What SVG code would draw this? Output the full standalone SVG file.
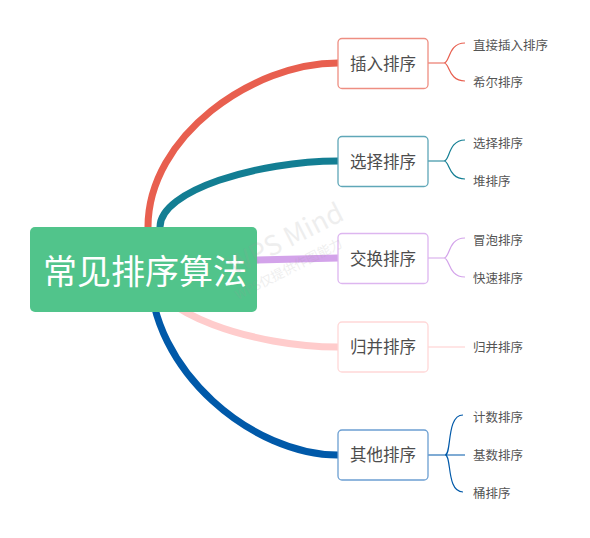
<svg xmlns="http://www.w3.org/2000/svg" width="590" height="538" viewBox="0 0 590 538">
<style>
  text { font-family: "Noto Sans CJK SC", "Noto Sans", sans-serif; }
  .main { fill: none; stroke-width: 7; stroke-linecap: butt; }
  .leafc { fill: none; stroke-width: 1.2; }
  .box { fill: #ffffff; stroke-width: 1.3; }
  .btext { font-size: 16.5px; fill: #4d4d4d; text-anchor: middle; }
  .ltext { font-size: 12.5px; fill: #555555; }
  .wm { fill: #9a9a9a; opacity: 0.16; }
</style>
<rect width="590" height="538" fill="#ffffff"/>
<g id="connectors">
  <path class="main" stroke="#E85F4F" d="M148,240 L148,227 C148,136 253,63 338,63"/>
  <path class="main" stroke="#137E93" d="M160,240 L160,227 C160,190.5 258,161 338,161"/>
  <path class="main" stroke="#D3A3EA" d="M200,261 L257,260 L338,258"/>
  <path class="main" stroke="#FFCCCC" d="M150,270 C150,312.5 254,347 338,347"/>
  <path class="main" stroke="#0059A9" d="M150,270 C150,372 254,455 338,455"/>

  <path class="leafc" stroke="#E85F4F" d="M428,63 H444 M444,63 C450,63 448,43 465,43 M444,63 C450,63 448,81 465,81"/>
  <path class="leafc" stroke="#137E93" d="M428,161 H444 M444,161 C450,161 448,140 465,140 M444,161 C450,161 448,179 465,179"/>
  <path class="leafc" stroke="#D3A3EA" d="M428,258 H444 M444,258 C450,258 448,238 465,238 M444,258 C450,258 448,277 465,277"/>
  <path class="leafc" stroke="#FFCCCC" d="M428,347 H465"/>
  <path class="leafc" stroke="#0059A9" d="M428,455 H465 M445,455 C452,455 446,415 463,415 M445,455 C452,455 446,492 463,492"/>
</g>
<g id="root">
  <rect x="30" y="227" width="227" height="85" rx="5" fill="#51C48B"/>
  <text x="145" y="284" font-size="34" fill="#ffffff" text-anchor="middle">常见排序算法</text>
</g>
<g id="n-insert">
  <rect class="box" x="338" y="38.5" width="90" height="50" rx="4" stroke="#EE8E82"/>
  <text class="btext" x="383" y="69.5">插入排序</text>
</g>
<g id="n-select">
  <rect class="box" x="338" y="136.5" width="90" height="50" rx="4" stroke="#5FA7B8"/>
  <text class="btext" x="383" y="167.5">选择排序</text>
</g>
<g id="n-swap">
  <rect class="box" x="338" y="233.5" width="90" height="50" rx="4" stroke="#DDB6F0"/>
  <text class="btext" x="383" y="264.5">交换排序</text>
</g>
<g id="n-merge">
  <rect class="box" x="338" y="322" width="90" height="50" rx="4" stroke="#FFD8D8"/>
  <text class="btext" x="383" y="353">归并排序</text>
</g>
<g id="n-other">
  <rect class="box" x="338" y="430" width="90" height="50" rx="4" stroke="#6C9FD2"/>
  <text class="btext" x="383" y="461">其他排序</text>
</g>
<g id="leaves">
  <text class="ltext" x="473" y="49.5">直接插入排序</text>
  <text class="ltext" x="473" y="87">希尔排序</text>
  <text class="ltext" x="473" y="147.5">选择排序</text>
  <text class="ltext" x="473" y="186">堆排序</text>
  <text class="ltext" x="473" y="244.5">冒泡排序</text>
  <text class="ltext" x="473" y="283">快速排序</text>
  <text class="ltext" x="473" y="352">归并排序</text>
  <text class="ltext" x="473" y="421.5">计数排序</text>
  <text class="ltext" x="473" y="460">基数排序</text>
  <text class="ltext" x="473" y="498">桶排序</text>
</g>
<g id="watermark">
  <text class="wm" x="234" y="276" font-size="27" transform="rotate(-27 234 276)">WPS Mind</text>
  <text class="wm" x="238" y="300" font-size="13" transform="rotate(-27 238 300)">WPS仅提供作图能力</text>
</g>
</svg>
